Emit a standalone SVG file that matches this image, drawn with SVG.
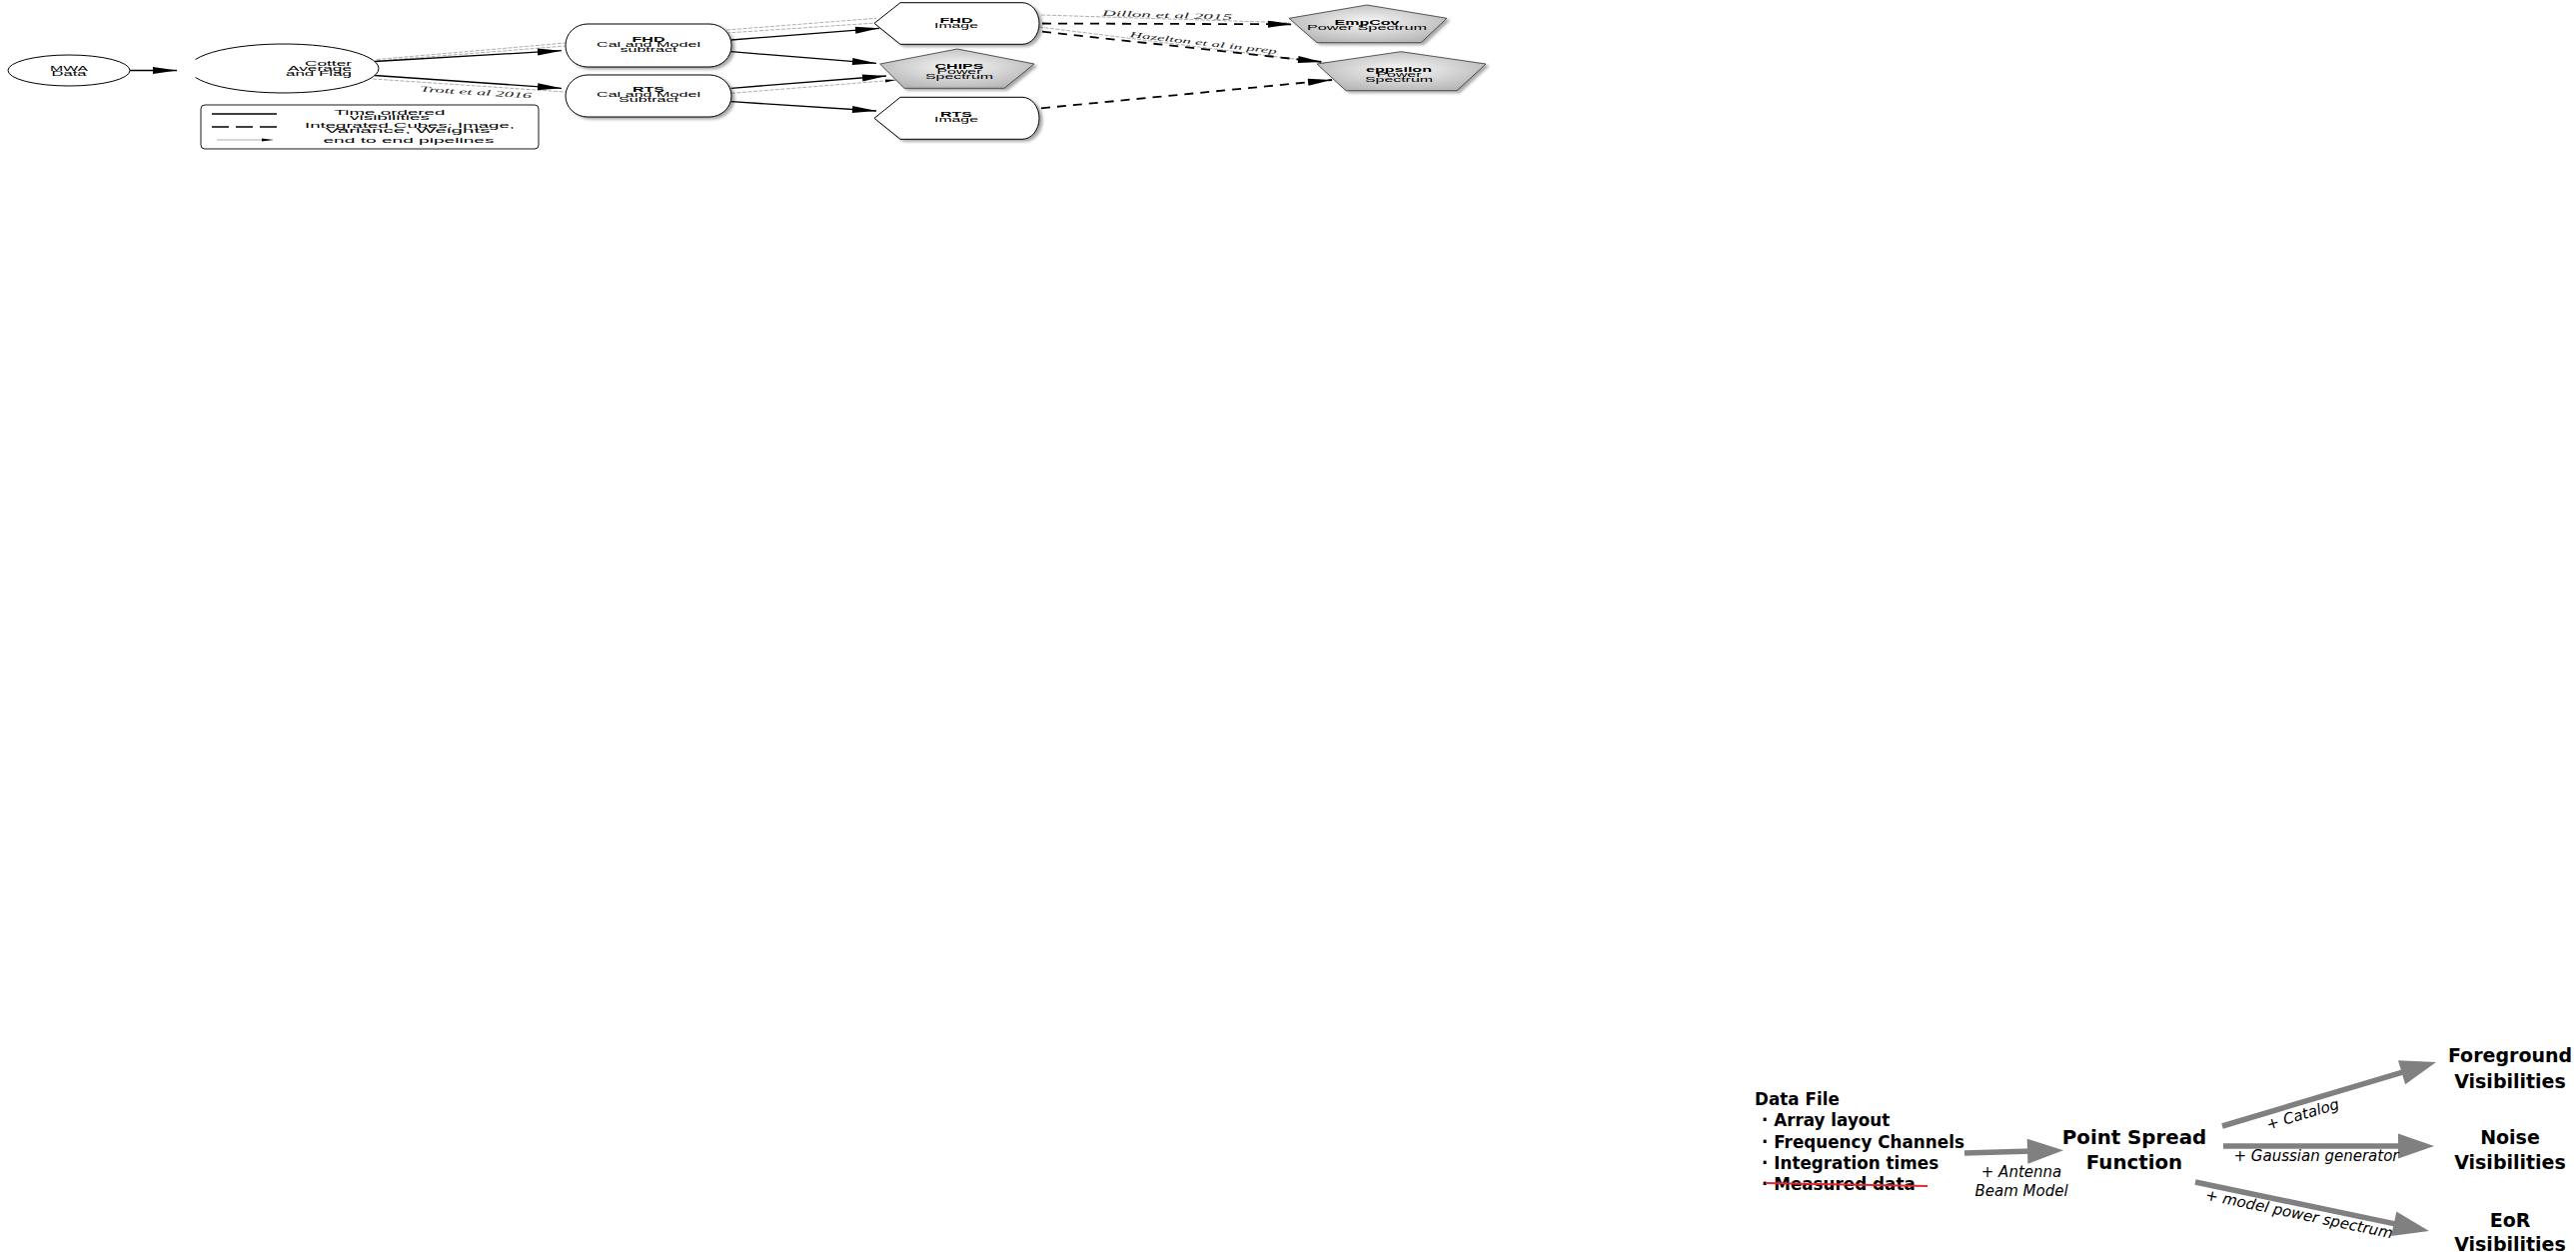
<svg xmlns="http://www.w3.org/2000/svg" width="2578" height="1253" viewBox="0 0 2578 1253">
<defs>
<style>
.t{font-family:"Liberation Sans",Arial,sans-serif;font-size:6.5px;fill:#000;text-anchor:middle}
.tb{font-weight:bold}
.lab{font-family:"Liberation Serif","Times New Roman",serif;font-style:italic;font-size:8px;fill:#222;text-anchor:middle}
.node{fill:#fff;stroke:#000;stroke-width:1}
.pent{fill:url(#pg);stroke:#333;stroke-width:0.8}
.solid{fill:none;stroke:#000;stroke-width:1.3;marker-end:url(#ah)}
.dash{fill:none;stroke:#000;stroke-width:1.8;stroke-dasharray:9,7;marker-end:url(#ah)}
.thin{fill:none;stroke:#999;stroke-width:0.8;stroke-dasharray:4,1.5}
.big{font-family:"DejaVu Sans",Verdana,sans-serif;font-weight:bold;fill:#000;text-anchor:middle}
.it{font-family:"DejaVu Sans",Verdana,sans-serif;font-style:italic;font-size:15px;fill:#000;text-anchor:middle}
.garrow{fill:none;stroke:#808080;stroke-width:5.5;marker-end:url(#gh)}
</style>
<radialGradient id="pg" cx="50%" cy="45%" r="60%">
<stop offset="0" stop-color="#f7f7f7"/>
<stop offset="1" stop-color="#b5b5b5"/>
</radialGradient>
<filter id="sh" x="-10%" y="-20%" width="130%" height="160%">
<feGaussianBlur in="SourceAlpha" stdDeviation="1.5"/>
<feOffset dx="3" dy="2" result="o"/>
<feComponentTransfer><feFuncA type="linear" slope="0.35"/></feComponentTransfer>
<feMerge><feMergeNode/><feMergeNode in="SourceGraphic"/></feMerge>
</filter>
<marker id="ah" markerUnits="userSpaceOnUse" markerWidth="24" markerHeight="8" refX="24" refY="3.5" orient="auto" overflow="visible">
<path d="M0,0 L24,3.5 L0,7 Z" fill="#000"/>
</marker>
<marker id="sah" markerUnits="userSpaceOnUse" markerWidth="11" markerHeight="4" refX="11" refY="1.5" orient="auto" overflow="visible">
<path d="M0,0 L11,1.5 L0,3 Z" fill="#000"/>
</marker>
<marker id="gh" markerUnits="userSpaceOnUse" markerWidth="36" markerHeight="25" refX="6" refY="12.5" orient="auto" overflow="visible">
<path d="M0,0 L36,12.5 L0,25 Z" fill="#808080"/>
</marker>
</defs>
<rect x="0" y="0" width="2578" height="1253" fill="#fff"/>

<!-- ===== Top pipeline diagram ===== -->
<g id="connectors">
<path class="thin" d="M196,59.5 L284,68.5 L196,77.5"/>
<line class="thin" x1="377" y1="59.5" x2="566" y2="43"/>
<line class="thin" x1="377" y1="61" x2="566" y2="46"/>
<line class="thin" x1="373" y1="79" x2="566" y2="92"/>
<line class="thin" x1="727" y1="30" x2="877" y2="18.3"/>
<line class="thin" x1="727" y1="33" x2="877" y2="23"/>
<line class="thin" x1="732" y1="93.3" x2="897" y2="80" style="marker-end:url(#sah)"/>
<line class="thin" x1="1042" y1="15" x2="1290" y2="22.7"/>
<line class="thin" x1="1040" y1="27" x2="1330" y2="63.3"/>
<line class="solid" x1="130" y1="70.5" x2="177" y2="70.5"/>
<line class="solid" x1="375" y1="61.5" x2="562" y2="50.7"/>
<line class="solid" x1="375" y1="75.5" x2="562" y2="88.3"/>
<line class="solid" x1="731.7" y1="40" x2="880" y2="28.3"/>
<line class="solid" x1="731.7" y1="51.7" x2="877" y2="63.3"/>
<line class="solid" x1="731.7" y1="88.3" x2="887" y2="76"/>
<line class="solid" x1="731.7" y1="101.7" x2="877" y2="111"/>
<line class="dash" x1="1043" y1="23.5" x2="1293" y2="24.3"/>
<line class="dash" x1="1043" y1="31.7" x2="1323" y2="62"/>
<line class="dash" x1="1042" y1="108.3" x2="1333" y2="80"/>
<text class="lab" x="476" y="95" transform="rotate(3.5 476 95)" textLength="112" lengthAdjust="spacingAndGlyphs">Trott et al 2016</text>
<text class="lab" x="1168" y="17.8" transform="rotate(1.8 1168 17.8)" textLength="130" lengthAdjust="spacingAndGlyphs">Dillon et al 2015</text>
<text class="lab" x="1204" y="45.5" transform="rotate(6.5 1204 45.5)" textLength="148" lengthAdjust="spacingAndGlyphs">Hazelton et al in prep</text>
</g>

<g id="mwa-data">
<ellipse class="node" cx="69" cy="70.5" rx="61" ry="15.5"/>
<text class="t" x="69" y="70.5" textLength="38" lengthAdjust="spacingAndGlyphs">MWA</text>
<text class="t" x="69" y="75.5" textLength="35" lengthAdjust="spacingAndGlyphs">Data</text>
</g>

<g id="cotter">
<path class="node" d="M195.6,59.5 A95,24.5 0 1 1 195.6,77.5" fill="#fff"/>
<text class="t" x="352" y="65.5" style="text-anchor:end" textLength="47" lengthAdjust="spacingAndGlyphs">Cotter</text>
<text class="t" x="352" y="70.5" style="text-anchor:end" textLength="64" lengthAdjust="spacingAndGlyphs">Average</text>
<text class="t" x="352" y="75.5" style="text-anchor:end" textLength="66" lengthAdjust="spacingAndGlyphs">and Flag</text>
</g>

<g id="fhd-cal">
<rect class="node" x="566" y="24" width="166" height="43" rx="22" ry="21" filter="url(#sh)"/>
<text class="t tb" x="649" y="42" textLength="33" lengthAdjust="spacingAndGlyphs">FHD</text>
<text class="t" x="649" y="47.3" textLength="104" lengthAdjust="spacingAndGlyphs">Cal and Model</text>
<text class="t" x="649" y="52.3" textLength="57" lengthAdjust="spacingAndGlyphs">subtract</text>
</g>

<g id="rts-cal">
<rect class="node" x="566" y="75" width="166" height="42" rx="22" ry="21" filter="url(#sh)"/>
<text class="t tb" x="649" y="92.3" textLength="32" lengthAdjust="spacingAndGlyphs">RTS</text>
<text class="t" x="649" y="97.3" textLength="104" lengthAdjust="spacingAndGlyphs">Cal and Model</text>
<text class="t" x="649" y="102.3" textLength="60" lengthAdjust="spacingAndGlyphs">Subtract</text>
</g>

<g id="fhd-image">
<path class="node" d="M875,23.3 L901,2.7 L1023,2.7 A17,20.8 0 0 1 1023,44.3 L901,44.3 Z" filter="url(#sh)"/>
<text class="t tb" x="957" y="22.7" textLength="33" lengthAdjust="spacingAndGlyphs">FHD</text>
<text class="t" x="957" y="27.5" textLength="44" lengthAdjust="spacingAndGlyphs">Image</text>
</g>

<g id="rts-image">
<path class="node" d="M875,118.3 L901,97.3 L1023,97.3 A17,21 0 0 1 1023,139.3 L901,139.3 Z" filter="url(#sh)"/>
<text class="t tb" x="957" y="116.7" textLength="32" lengthAdjust="spacingAndGlyphs">RTS</text>
<text class="t" x="957" y="121.5" textLength="44" lengthAdjust="spacingAndGlyphs">Image</text>
</g>

<g id="chips">
<polygon class="pent" points="880.7,64 958,49 1035,64 1005,88.3 905,88.3" filter="url(#sh)"/>
<text class="t tb" x="960" y="69.3" textLength="49" lengthAdjust="spacingAndGlyphs">CHIPS</text>
<text class="t" x="960" y="74.3" textLength="45" lengthAdjust="spacingAndGlyphs">Power</text>
<text class="t" x="960" y="79.3" textLength="68" lengthAdjust="spacingAndGlyphs">Spectrum</text>
</g>

<g id="empcov">
<polygon class="pent" points="1290,18.3 1368,5 1448,18.3 1422,42.7 1318,42.7" filter="url(#sh)"/>
<text class="t tb" x="1368" y="25" textLength="65" lengthAdjust="spacingAndGlyphs">EmpCov</text>
<text class="t" x="1368" y="29.5" textLength="120" lengthAdjust="spacingAndGlyphs">Power Spectrum</text>
</g>

<g id="eppsilon">
<polygon class="pent" points="1318,64 1402,51.7 1487,64 1458,90.7 1347,90.7" filter="url(#sh)"/>
<text class="t tb" x="1400" y="71.7" textLength="66" lengthAdjust="spacingAndGlyphs">eppsilon</text>
<text class="t" x="1400" y="76.7" textLength="45" lengthAdjust="spacingAndGlyphs">Power</text>
<text class="t" x="1400" y="81.7" textLength="68" lengthAdjust="spacingAndGlyphs">Spectrum</text>
</g>

<g id="legend">
<rect x="201" y="105" width="338" height="44" rx="4" ry="4" fill="#fff" stroke="#000" stroke-width="0.9"/>
<line x1="212" y1="114" x2="277" y2="114" stroke="#000" stroke-width="1.3"/>
<line x1="212" y1="127" x2="277" y2="127" stroke="#000" stroke-width="1.3" stroke-dasharray="17,7"/>
<line x1="217" y1="140" x2="273" y2="140" stroke="#999" stroke-width="0.8" marker-end="url(#sah)"/>
<text class="t" x="390" y="115" textLength="111" lengthAdjust="spacingAndGlyphs">Time ordered</text>
<text class="t" x="390" y="120" textLength="80" lengthAdjust="spacingAndGlyphs">visibilities</text>
<text class="t" x="410" y="127.5" textLength="210" lengthAdjust="spacingAndGlyphs">Integrated Cubes: Image,</text>
<text class="t" x="408" y="132.5" textLength="165" lengthAdjust="spacingAndGlyphs">Variance, Weights</text>
<text class="t" x="409" y="143" textLength="171" lengthAdjust="spacingAndGlyphs">end to end pipelines</text>
</g>

<!-- ===== Bottom-right simulation diagram ===== -->
<g id="sim-connectors">
<line class="garrow" x1="1966" y1="1154" x2="2035" y2="1152"/>
<line class="garrow" x1="2224" y1="1127" x2="2409.3" y2="1071.6"/>
<line class="garrow" x1="2225" y1="1147" x2="2406" y2="1147"/>
<line class="garrow" x1="2197" y1="1183" x2="2401.6" y2="1225.9"/>
<text class="it" x="2023" y="1178">+ Antenna</text>
<text class="it" x="2023" y="1197">Beam Model</text>
<text class="it" x="2306" y="1120" transform="rotate(-16.6 2306 1120)">+ Catalog</text>
<text class="it" x="2318" y="1162">+ Gaussian generator</text>
<text class="it" x="2300" y="1220" transform="rotate(11.8 2300 1220)">+ model power spectrum</text>
</g>

<g id="data-file">
<text class="big" style="text-anchor:start" font-size="16.8" x="1756" y="1106">Data File</text>
<text class="big" style="text-anchor:start" font-size="16.8" x="1763" y="1127">· Array layout</text>
<text class="big" style="text-anchor:start" font-size="16.8" x="1763" y="1149">· Frequency Channels</text>
<text class="big" style="text-anchor:start" font-size="16.8" x="1763" y="1170">· Integration times</text>
<text class="big" style="text-anchor:start" font-size="16.8" x="1763" y="1191">· Measured data</text>
<line x1="1767" y1="1184" x2="1929" y2="1187" stroke="#e8262b" stroke-width="2"/>
</g>

<g id="psf">
<text class="big" font-size="19.8" x="2136" y="1145">Point Spread</text>
<text class="big" font-size="19.8" x="2136" y="1170">Function</text>
</g>

<g id="foreground">
<text class="big" font-size="19" x="2512" y="1063">Foreground</text>
<text class="big" font-size="19" x="2512" y="1089">Visibilities</text>
</g>

<g id="noise">
<text class="big" font-size="19" x="2512" y="1145">Noise</text>
<text class="big" font-size="19" x="2512" y="1170">Visibilities</text>
</g>

<g id="eor">
<text class="big" font-size="19" x="2512" y="1228">EoR</text>
<text class="big" font-size="19" x="2512" y="1252">Visibilities</text>
</g>
</svg>
